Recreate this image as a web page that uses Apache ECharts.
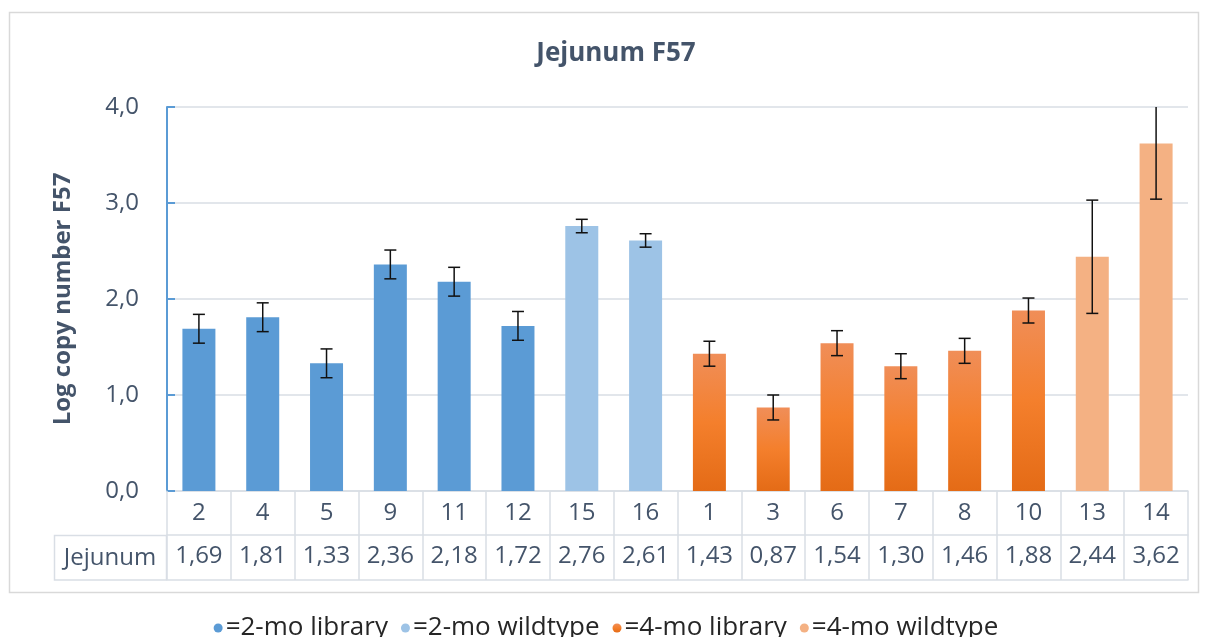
<!DOCTYPE html>
<html>
<head>
<meta charset="utf-8">
<script src="https://cdn.jsdelivr.net/npm/echarts@6/dist/echarts.min.js"></script>
<style>
html,body{margin:0;padding:0;background:#fff;}
#chart{width:1212px;height:637px;}
</style>
</head>
<body>
<div id="chart"></div>
<script>
const categories = ['2','4','5','9','11','12','15','16','1','3','6','7','8','10','13','14'];
const values = [1.69,1.81,1.33,2.36,2.18,1.72,2.76,2.61,1.43,0.87,1.54,1.30,1.46,1.88,2.44,3.62];
const errors = [0.15,0.15,0.15,0.15,0.15,0.15,0.07,0.07,0.13,0.13,0.13,0.13,0.13,0.13,0.59,0.58];
const groupOf = [0,0,0,0,0,0,1,1,2,2,2,2,2,2,3,3];
const groupNames = ['2-mo library','2-mo wildtype','4-mo library','4-mo wildtype'];
const rowLabel = 'Jejunum';
const yTicks = [0,1,2,3,4];

const TXT = '#44546A';
const GRID = '#D9DEE5';
const FONT = 'Open Sans';
const groupColors = [
  '#5B9BD5',
  '#9DC3E6',
  new echarts.graphic.LinearGradient(0,0,0,1,[
    {offset:0,color:'#F08E58'},
    {offset:0.5,color:'#F47F2C'},
    {offset:1,color:'#E46B16'}
  ]),
  '#F4B183'
];
const fmt = v => v.toFixed(2).replace('.', ',');

const chart = echarts.init(document.getElementById('chart'), null, {renderer:'canvas'});

const barSeries = groupNames.map((name, g) => ({
  name: name,
  type: 'bar',
  barWidth: 33,
  barGap: '-100%',
  itemStyle: {color: groupColors[g]},
  data: values.map((v, i) => groupOf[i] === g ? v : '-'),
  silent: true
}));

const yMax = yTicks[yTicks.length-1];

const errSeries = {
  type: 'custom',
  silent: true,
  z: 10,
  data: values.map((v, i) => [i, v, errors[i]]),
  renderItem: function(params, api) {
    const i = api.value(0), v = api.value(1), e = api.value(2);
    const hiV = v + e, loV = v - e;
    const hi = api.coord([i, Math.min(hiV, yMax)]);
    const lo = api.coord([i, loV]);
    const cap = 6;
    const children = [
      {type:'line', shape:{x1:hi[0], y1:hi[1], x2:lo[0], y2:lo[1]}, style:{stroke:'#111', lineWidth:1.5}},
      {type:'line', shape:{x1:lo[0]-cap, y1:lo[1], x2:lo[0]+cap, y2:lo[1]}, style:{stroke:'#111', lineWidth:1.5}}
    ];
    if (hiV <= yMax) {
      children.push({type:'line', shape:{x1:hi[0]-cap, y1:hi[1], x2:hi[0]+cap, y2:hi[1]}, style:{stroke:'#111', lineWidth:1.5}});
    }
    return {type:'group', children: children};
  }
};

const option = {
  backgroundColor: '#fff',
  animation: false,
  title: {
    text: 'Jejunum F57',
    left: 611, textAlign: 'center',
    top: 36,
    textStyle: {fontFamily: FONT, fontSize: 26, fontWeight: 'bold', color: TXT}
  },
  legend: {
    data: groupNames,
    top: 610,
    left: 'center',
    icon: 'circle',
    itemWidth: 9, itemHeight: 9,
    itemGap: 13,
    formatter: n => '=' + n,
    textStyle: {fontFamily: FONT, fontSize: 26, color: '#262626', padding:[0,0,0,-2]},
    selectedMode: false
  },
  grid: {left: 167, right: 24, top: 107, bottom: 146},
  xAxis: [
    {
      type: 'category', data: categories, position: 'bottom',
      axisLine: {lineStyle: {color: GRID, width: 1.5}},
      axisTick: {show: true, length: 89, lineStyle: {color: GRID, width: 1.5}},
      axisLabel: {fontFamily: FONT, fontSize: 24, color: TXT, margin: 10, interval: 0}
    },
    {
      type: 'category', data: categories, position: 'bottom', offset: 44,
      axisLine: {lineStyle: {color: GRID, width: 1.5}},
      axisTick: {show: false},
      axisLabel: {fontFamily: FONT, fontSize: 24, color: TXT, margin: 9, interval: 0,
        formatter: (val, idx) => fmt(values[idx])}
    },
    {
      type: 'category', data: categories, position: 'bottom', offset: 89,
      axisLine: {lineStyle: {color: GRID, width: 1.5}},
      axisTick: {show: false},
      axisLabel: {show: false}
    }
  ],
  yAxis: {
    type: 'value', min: 0, max: yMax, interval: 1,
    name: 'Log copy number F57',
    nameLocation: 'middle',
    nameGap: 92,
    nameTextStyle: {fontFamily: FONT, fontSize: 24, fontWeight: 'bold', color: TXT},
    axisLine: {show: true, lineStyle: {color: '#5B9BD5', width: 2}},
    axisTick: {show: true, inside: true, length: 8, lineStyle: {color: '#5B9BD5', width: 2}},
    axisLabel: {fontFamily: FONT, fontSize: 24, color: TXT, margin: 28,
      formatter: v => v.toFixed(1).replace('.', ',')},
    splitLine: {lineStyle: {color: GRID, width: 1.5}}
  },
  graphic: [
    {type:'rect', shape:{x:9.5, y:12.5, width:1189, height:580}, style:{fill:'none', stroke:'#D9D9D9', lineWidth:1.5}, silent:true, z:-10},
    {type:'rect', shape:{x:54.5, y:535.5, width:112, height:44.5}, style:{fill:'none', stroke:GRID, lineWidth:1.5}, silent:true},
    {type:'text', x:110, y:558, style:{text: rowLabel, fontFamily: FONT, fontSize: 24, fill: TXT, align:'center', verticalAlign:'middle'}, silent:true}
  ],
  series: barSeries.concat([errSeries])
};
chart.setOption(option);
</script>
</body>
</html>
